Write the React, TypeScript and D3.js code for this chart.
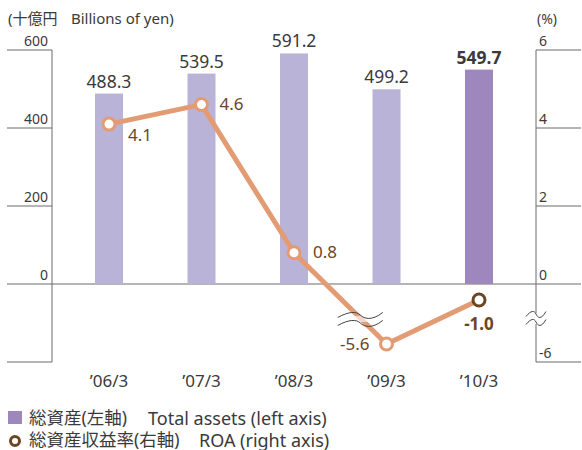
import React from 'react';
import * as d3 from 'd3';

const years = ['06/3', '07/3', '08/3', '09/3', '10/3'];
const totalAssets = [488.3, 539.5, 591.2, 499.2, 549.7];
const roa = [4.1, 4.6, 0.8, -5.6, -1.0];
const leftTicks = [0, 200, 400, 600];
const rightTicks = [-6, 0, 2, 4, 6];

const W = 582;
const H = 450;
const FONT = "'Noto Sans', 'Noto Sans CJK JP', sans-serif";

const x = d3.scalePoint<string>().domain(years).range([52, 536]).padding(0.616);
const yL = d3.scaleLinear().domain([-200, 600]).range([362, 50]);
// broken right axis: compressed between -1.5 and -5
const yR = d3.scaleLinear().domain([-6, -5, -1.5, 0, 6]).range([362, 317, 308, 284, 50]);

const barW = 28;
const barColor = '#bab3d8';
const barLast = '#9e87bd';
const lineColor = '#e39b74';
const brown = '#6b4623';
const axisColor = '#6a6a6a';
const textColor = '#3a3a3a';

// wavy break mark
const wave = (cx: number, cy: number, w: number, a: number) =>
  `M${cx - w / 2},${cy + a} C${cx - w / 4},${cy - a * 1.5} ${cx - w / 12},${cy - a * 1.5} ${cx},${cy} S${cx + w / 4},${cy + a * 2.5} ${cx + w / 2},${cy - a}`;

const App = () => {
  const line = d3
    .line<number>()
    .x((_, i) => x(years[i]) as number)
    .y((d) => yR(d));

  const roaLabel = [
    { dx: 19, dy: 17, anchor: 'start' },
    { dx: 18, dy: 5, anchor: 'start' },
    { dx: 19, dy: 5, anchor: 'start' },
    { dx: -17, dy: 6, anchor: 'end' },
    { dx: 0, dy: 30, anchor: 'middle' },
  ];

  const breakX = (x(years[2])! + x(years[3])!) / 2 + 20;

  return (
    <svg width={W} height={H} style={{ position: 'absolute', left: 0, top: 0, fontFamily: FONT }}>
      <rect width={W} height={H} fill="#fff" />
      {/* titles */}
      <text x={8} y={24} fontSize={15} fill={textColor}>(十億円</text>
      <text x={71} y={24} fontSize={15} fill={textColor}>Billions of yen)</text>
      <text x={537} y={24} fontSize={14} fill={textColor}>(%)</text>

      {/* left axis */}
      <line x1={52} x2={52} y1={yL(600)} y2={yL(-200)} stroke={axisColor} />
      {leftTicks.map((t) => (
        <g key={t}>
          <line x1={7} x2={52} y1={yL(t)} y2={yL(t)} stroke={axisColor} />
          <text x={48} y={yL(t) - 4} textAnchor="end" fontSize={14} fill={textColor}>{t}</text>
        </g>
      ))}
      <line x1={7} x2={52} y1={yL(-200)} y2={yL(-200)} stroke={axisColor} />

      {/* right axis */}
      <line x1={536} x2={536} y1={yR(6)} y2={313} stroke={axisColor} />
      <line x1={536} x2={536} y1={324} y2={yR(-6)} stroke={axisColor} />
      {rightTicks.map((t) => (
        <g key={t}>
          <line x1={536} x2={581} y1={yR(t)} y2={yR(t)} stroke={axisColor} />
          <text x={539} y={yR(t) - 4} fontSize={14} fill={textColor}>{t}</text>
        </g>
      ))}
      <path d={wave(536, 314, 20, 2.5)} fill="none" stroke="#444" strokeWidth={1} />
      <path d={wave(536, 322, 20, 2.5)} fill="none" stroke="#444" strokeWidth={1} />

      {/* zero line */}
      <line x1={52} x2={536} y1={yL(0)} y2={yL(0)} stroke={axisColor} />

      {/* bars */}
      {totalAssets.map((v, i) => (
        <g key={years[i]}>
          <rect
            x={(x(years[i]) as number) - barW / 2}
            y={yL(v)}
            width={barW}
            height={yL(0) - yL(v)}
            fill={i === totalAssets.length - 1 ? barLast : barColor}
          />
          <text
            x={x(years[i])}
            y={yL(v) - 6}
            textAnchor="middle"
            fontSize={17.5}
            fontWeight={i === totalAssets.length - 1 ? 700 : 400}
            fill={textColor}
          >
            {v.toFixed(1)}
          </text>
          <text x={x(years[i])} y={387} textAnchor="middle" fontSize={17} fill={textColor}>
            {'\u2019' + years[i]}
          </text>
        </g>
      ))}

      {/* ROA line */}
      <path d={line(roa) || ''} fill="none" stroke={lineColor} strokeWidth={5} strokeLinejoin="round" />
      <rect x={breakX - 24} y={316} width={48} height={6} fill="#fff" opacity={0.6} />
      <path d={wave(breakX, 315, 45, 2.5)} fill="none" stroke="#444" strokeWidth={1} />
      <path d={wave(breakX, 323, 45, 2.5)} fill="none" stroke="#444" strokeWidth={1} />
      {roa.map((v, i) => {
        const last = i === roa.length - 1;
        const p = roaLabel[i];
        const cx = x(years[i]) as number;
        const cy = yR(v);
        return (
          <g key={'r' + i}>
            <circle cx={cx} cy={cy} r={6} fill="#fff" stroke={last ? brown : lineColor} strokeWidth={3} />
            <text
              x={cx + p.dx}
              y={cy + p.dy}
              textAnchor={p.anchor as any}
              fontSize={17}
              fontWeight={last ? 700 : 400}
              fill={brown}
            >
              {v.toFixed(1)}
            </text>
          </g>
        );
      })}

      {/* legend */}
      <rect x={8} y={411} width={14} height={13} fill={barLast} />
      <text x={29} y={424} fontSize={17.5} fill={textColor}>総資産(左軸)</text>
      <text x={148} y={425} fontSize={18} fill={textColor}>Total assets (left axis)</text>
      <circle cx={15} cy={441} r={4.5} fill="#fff" stroke={brown} strokeWidth={3} />
      <text x={29} y={446} fontSize={17.5} fill={textColor}>総資産収益率(右軸)</text>
      <text x={199} y={447} fontSize={18} fill={textColor}>ROA (right axis)</text>
    </svg>
  );
};

export default App;
